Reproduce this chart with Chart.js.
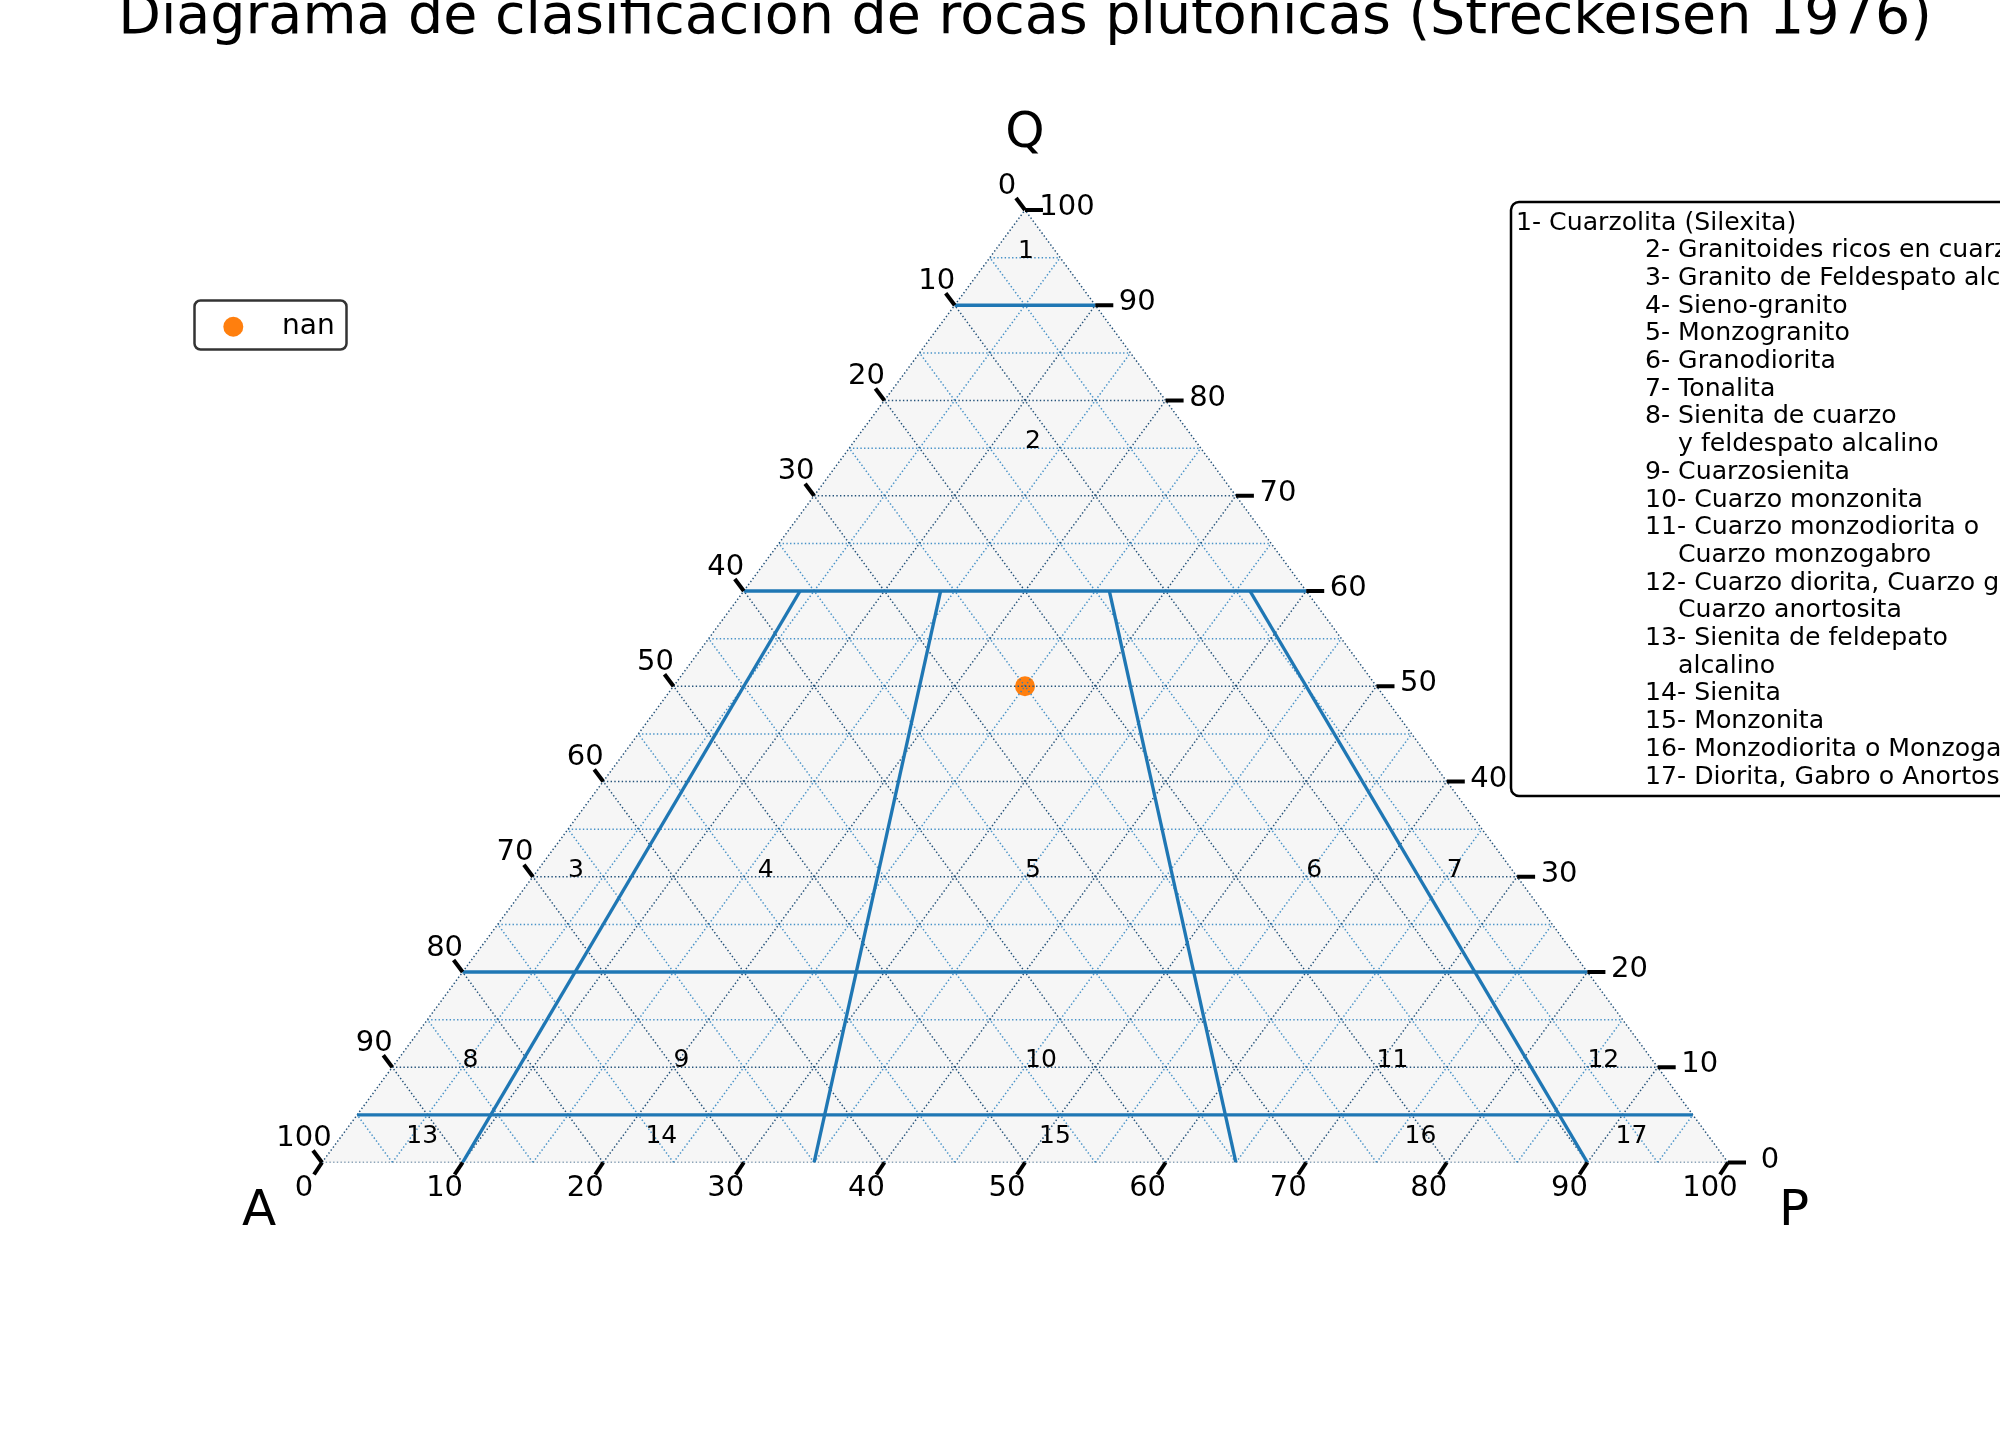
<!DOCTYPE html>
<html><head><meta charset="utf-8">
<script src="https://cdn.jsdelivr.net/npm/chart.js@4/dist/chart.umd.min.js"></script>
<style>html,body{margin:0;padding:0;background:#fff}#wrap{width:2000px;height:1430px;position:relative}</style>
</head><body><div id="wrap"><canvas id="c"></canvas></div>
<script>
// ---------------- data ----------------
const TITLE = "Diagrama de clasificacion de rocas plutonicas (Streckeisen 1976)";
const VERTEX_LABELS = { A: "A", P: "P", Q: "Q" };
const TICK_VALUES = [0, 10, 20, 30, 40, 50, 60, 70, 80, 90, 100];
const TICK_LABELS = ["0", "10", "20", "30", "40", "50", "60", "70", "80", "90", "100"];
const GRID_MAJOR = [0, 10, 20, 30, 40, 50, 60, 70, 80, 90];
const GRID_MINOR = [5, 15, 25, 35, 45, 55, 65, 75, 85, 95];
// field boundaries (Streckeisen)
const BOUNDARY_Q_LEVELS = [90, 60, 20, 5];          // horizontal lines, % Q
const BOUNDARY_RATIOS = [10, 35, 65, 90];           // P/(A+P) %, radial lines
const BOUNDARY_RATIO_TOP_Q = 60;                    // radial lines start at Q = 60
// region numbers (anchor in P, Q %)
const REGION_IDS = ["1","2","3","4","5","6","7","8","9","10","11","12","13","14","15","16","17"];
const REGION_P = [2, 12.5, 2.5, 16, 35, 55, 65, 5, 20, 45, 70, 85, 5, 22, 50, 76, 91];
const REGION_Q = [95, 75, 30, 30, 30, 30, 30, 10, 10, 10, 10, 10, 2, 2, 2, 2, 2];
// sample
const SAMPLE_NAME = ["nan"];
const SAMPLE_P = [25];
const SAMPLE_Q = [50];
const SAMPLE_A = [25];
// legend text box
const LEGEND_LINES = [
  "1- Cuarzolita (Silexita)",
  "2- Granitoides ricos en cuarzo",
  "3- Granito de Feldespato alcalino",
  "4- Sieno-granito",
  "5- Monzogranito",
  "6- Granodiorita",
  "7- Tonalita",
  "8- Sienita de cuarzo",
  "y feldespato alcalino",
  "9- Cuarzosienita",
  "10- Cuarzo monzonita",
  "11- Cuarzo monzodiorita o",
  "Cuarzo monzogabro",
  "12- Cuarzo diorita, Cuarzo gabro o",
  "Cuarzo anortosita",
  "13- Sienita de feldepato",
  "alcalino",
  "14- Sienita",
  "15- Monzonita",
  "16- Monzodiorita o Monzogabro",
  "17- Diorita, Gabro o Anortosita"
];
const LEGEND_LEVELS = [0,1,1,1,1,1,1,1,2,1,1,1,2,1,2,1,2,1,1,1,1];

// ------------- helpers -------------
// ternary (P bottom, Q right/top, A left) -> cartesian
function tern(p, q) { return { x: p + q / 2, y: q }; }

const FONT = "'DejaVu Sans', 'Liberation Sans', sans-serif";
const MINOR_COLOR = "rgba(40,128,192,0.85)";
const MAJOR_COLOR = "#24527a";
const BLUE = "#1f77b4";

const datasets = [];
function lineDs(pts, color, width, dash, order) {
  datasets.push({
    type: "scatter", data: pts, showLine: true, pointRadius: 0,
    borderColor: color, borderWidth: width, borderDash: dash || [],
    fill: false, order: order, borderCapStyle: "butt"
  });
}
// boundary lines (on top)
BOUNDARY_Q_LEVELS.forEach(q => lineDs([tern(0, q), tern(100 - q, q)], BLUE, 3.4, null, 0));
BOUNDARY_RATIOS.forEach(r => {
  const top = BOUNDARY_RATIO_TOP_Q;
  lineDs([tern(r / 100 * (100 - top), top), tern(r, 0)], BLUE, 3.4, null, 0);
});
// grid lines
function gridFamily(levels, color, order) {
  levels.forEach(k => {
    lineDs([tern(0, k), tern(100 - k, k)], color, 1.5, [1.4, 2.3], order);       // constant Q
    lineDs([tern(k, 0), tern(k, 100 - k)], color, 1.5, [1.4, 2.3], order);       // constant P
    lineDs([tern(100 - k, 0), tern(0, 100 - k)], color, 1.5, [1.4, 2.3], order); // constant A
  });
}
gridFamily(GRID_MAJOR, MAJOR_COLOR, 1);
gridFamily(GRID_MINOR, MINOR_COLOR, 2);
// sample point (below grid lines)
datasets.push({
  type: "scatter", order: 3,
  data: SAMPLE_P.map((p, i) => tern(p, SAMPLE_Q[i])),
  pointRadius: 10, pointBackgroundColor: "#ff7f0e", pointBorderWidth: 0, pointBorderColor: "#ff7f0e"
});

const decor = {
  id: "decor",
  beforeDatasetsDraw(chart) {
    const { ctx, scales: { x, y } } = chart;
    const pt = (p, q) => { const t = tern(p, q); return [x.getPixelForValue(t.x), y.getPixelForValue(t.y)]; };
    ctx.save();
    ctx.beginPath();
    ctx.moveTo(...pt(0, 0)); ctx.lineTo(...pt(100, 0)); ctx.lineTo(...pt(0, 100)); ctx.closePath();
    ctx.fillStyle = "#f6f6f6"; ctx.fill();
    ctx.restore();
  },
  afterDraw(chart) {
    const { ctx, scales: { x, y } } = chart;
    const pt = (p, q) => { const t = tern(p, q); return [x.getPixelForValue(t.x), y.getPixelForValue(t.y)]; };
    ctx.save();
    // title
    ctx.fillStyle = "#000";
    ctx.font = "55.5px " + FONT; ctx.textAlign = "center"; ctx.textBaseline = "alphabetic";
    ctx.fillText(TITLE, 1025, 33);
    // vertex labels
    ctx.font = "50px " + FONT;
    let [qx, qy] = pt(0, 100); ctx.fillText(VERTEX_LABELS.Q, qx, qy - 63);
    let [ax, ay] = pt(0, 0); ctx.fillText(VERTEX_LABELS.A, ax - 63, ay + 62);
    let [px, py] = pt(100, 0); ctx.fillText(VERTEX_LABELS.P, px + 66, py + 62);
    // ticks
    ctx.strokeStyle = "#000"; ctx.lineWidth = 4; ctx.lineCap = "butt";
    ctx.font = "29px " + FONT; ctx.textBaseline = "middle"; ctx.textAlign = "center";
    TICK_VALUES.forEach((v, i) => {
      // bottom axis (P)
      let [bx, by] = pt(v, 0);
      ctx.beginPath(); ctx.moveTo(bx, by); ctx.lineTo(bx - 8, by + 12); ctx.stroke();
      ctx.fillText(TICK_LABELS[i], bx - 18, by + 25.5);
      // right axis (Q)
      let [rx, ry] = pt(100 - v, v);
      ctx.beginPath(); ctx.moveTo(rx, ry); ctx.lineTo(rx + 18, ry); ctx.stroke();
      ctx.fillText(TICK_LABELS[i], rx + 42, ry - 2.5);
      // left axis (A)
      let [lx, ly] = pt(0, 100 - v);
      ctx.beginPath(); ctx.moveTo(lx, ly); ctx.lineTo(lx - 9, ly - 12); ctx.stroke();
      ctx.fillText(TICK_LABELS[i], lx - 18, ly - 24);
    });
    // region numbers
    ctx.font = "25px " + FONT; ctx.textAlign = "left"; ctx.textBaseline = "alphabetic";
    REGION_IDS.forEach((id, i) => {
      const [rx, ry] = pt(REGION_P[i], REGION_Q[i]);
      ctx.fillText(id, rx, ry);
    });
    // legend text box
    ctx.beginPath();
    ctx.roundRect(1511, 202, 700, 594, 8);
    ctx.fillStyle = "#fff"; ctx.fill();
    ctx.lineWidth = 2.5; ctx.strokeStyle = "#000"; ctx.stroke();
    ctx.fillStyle = "#000"; ctx.font = "25.2px " + FONT;
    const indents = [1516, 1645, 1678];
    LEGEND_LINES.forEach((t, i) => ctx.fillText(t, indents[LEGEND_LEVELS[i]], 229.5 + i * 27.7));
    // sample legend
    ctx.beginPath();
    ctx.roundRect(194.5, 300.5, 152, 49, 6);
    ctx.fillStyle = "rgba(255,255,255,0.8)"; ctx.fill();
    ctx.strokeStyle = "#333"; ctx.lineWidth = 2.5; ctx.stroke();
    ctx.beginPath(); ctx.arc(233.3, 326.7, 10, 0, Math.PI * 2);
    ctx.fillStyle = "#ff7f0e"; ctx.fill();
    ctx.fillStyle = "#000"; ctx.font = "28px " + FONT;
    ctx.fillText(SAMPLE_NAME[0], 282, 334);
    ctx.restore();
  }
};

new Chart(document.getElementById("c"), {
  type: "scatter",
  data: { datasets },
  options: {
    responsive: true, maintainAspectRatio: false, animation: false, events: [],
    layout: { padding: { left: 322, right: 272, top: 210, bottom: 267.5 } },
    scales: {
      x: { type: "linear", min: 0, max: 100, display: false },
      y: { type: "linear", min: 0, max: 100, display: false }
    },
    plugins: { legend: { display: false }, tooltip: { enabled: false }, title: { display: false } }
  },
  plugins: [decor]
});
</script></body></html>
